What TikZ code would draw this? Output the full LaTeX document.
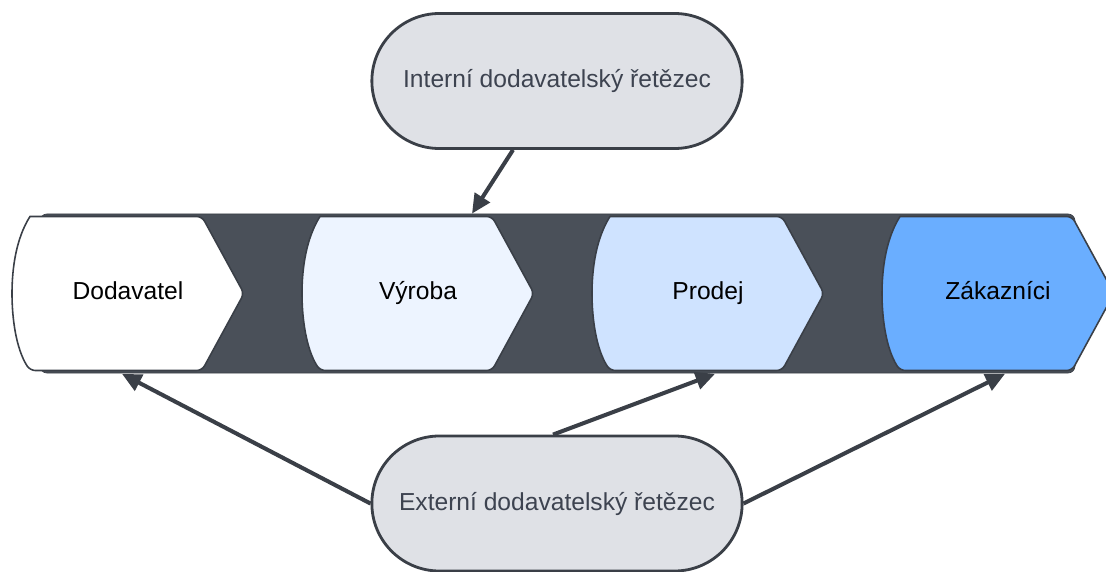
\documentclass[tikz,border=0pt]{standalone}
\usepackage{fontspec}
\setmainfont{Liberation Sans}
\usetikzlibrary{shapes.misc,arrows.meta,positioning,calc}
\definecolor{bandgrey}{HTML}{4A5059}
\definecolor{edgegrey}{HTML}{3A3F47}
\definecolor{bubblegrey}{HTML}{DFE1E6}
\definecolor{textgrey}{HTML}{3D4350}
\definecolor{stageA}{HTML}{FFFFFF}
\definecolor{stageB}{HTML}{EDF4FF}
\definecolor{stageC}{HTML}{CFE3FF}
\definecolor{stageD}{HTML}{6AAEFF}

\begin{document}
\begin{tikzpicture}[
  bubble/.style={draw=edgegrey,line width=1.6pt,fill=bubblegrey,rounded rectangle,
                 minimum width=7.64cm,minimum height=2.7cm,text=textgrey,
                 font=\fontsize{14}{17}\selectfont},
  stagelabel/.style={minimum width=4.64cm,minimum height=3.08cm,text=black,
                     text height=10pt,text depth=3pt,
                     font=\fontsize{14}{17}\selectfont},
  stageshape/.style={draw=edgegrey,line width=0.9pt},
  arr/.style={-{Triangle[length=11pt,width=10pt]},line width=2.3pt,draw=edgegrey}
]
  \useasboundingbox (0,0) rectangle (22.12,-11.44);

  % Dark band behind the stages
  \draw[draw=edgegrey,fill=bandgrey,rounded corners=4pt] (0.8,-4.28) rectangle (21.5,-7.46);

  % Stages of the chain
  \foreach \name/\txt/\col [count=\i from 0] in
      {dod/Dodavatel/stageA, vyr/Výroba/stageB, pro/Prodej/stageC, zak/Zákazníci/stageD}
  {
    \draw[stageshape,fill=\col,shift={(0.24+5.8*\i,-5.87)}]
      (0.36,1.54) [rounded corners=3pt] -- (3.8,1.54) -- (4.64,0) -- (3.8,-1.54)
      -- (0.36,-1.54) [sharp corners] .. controls (0.08,-1.1) and (0,-0.5) .. (0,0)
      .. controls (0,0.5) and (0.08,1.1) .. (0.36,1.54) -- cycle;
    \node[stagelabel] (\name) at (2.56+5.8*\i,-5.87) {\txt};
  }

  % Bubbles
  \node[bubble] (inner) at (11.14,-1.62) {Interní dodavatelský řetězec};
  \node[bubble] (outer) at (11.14,-10.07) {Externí dodavatelský řetězec};

  % Arrows
  \draw[arr] ([xshift=-0.88cm]inner.south) -- ([xshift=1.08cm,yshift=0.05cm]vyr.north);
  \draw[arr] (outer.west) -- ([xshift=-0.12cm,yshift=-0.06cm]dod.south);
  \draw[arr] ([xshift=-0.08cm]outer.north) -- ([xshift=0.14cm,yshift=-0.06cm]pro.south);
  \draw[arr] (outer.east) -- ([xshift=0.14cm,yshift=-0.06cm]zak.south);
\end{tikzpicture}
\end{document}
